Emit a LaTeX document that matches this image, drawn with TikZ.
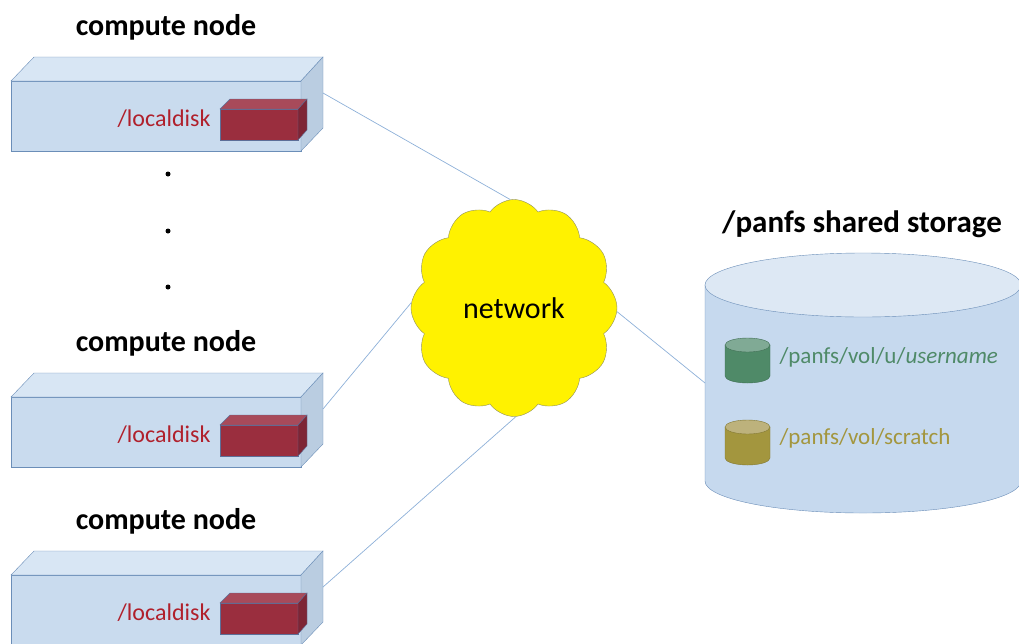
\documentclass[tikz,border=0pt]{standalone}
\usepackage{fontspec}
\setmainfont{Carlito}
\usepackage{xcolor}
\usepackage{tikz}
\usetikzlibrary{shapes, shapes.symbols, positioning, calc}

\definecolor{boxedge}{HTML}{6B8EB8}
\definecolor{boxfront}{HTML}{C9DBEE}
\definecolor{boxtop}{HTML}{D8E6F4}
\definecolor{boxside}{HTML}{BACDE1}
\definecolor{diskfront}{HTML}{9A2E3E}
\definecolor{disktop}{HTML}{A84A5A}
\definecolor{diskside}{HTML}{7E2535}
\definecolor{diskedge}{HTML}{5D6F98}
\definecolor{diskred}{HTML}{B0202C}
\definecolor{linkblue}{HTML}{8DB0D8}
\definecolor{cloudedge}{HTML}{8F8F5E}
\definecolor{storebody}{HTML}{C6D9EE}
\definecolor{storetop}{HTML}{DDE8F4}
\definecolor{volgreen}{HTML}{4F8A68}
\definecolor{volgreentop}{HTML}{80AA95}
\definecolor{vololive}{HTML}{A3963E}
\definecolor{vololivetop}{HTML}{BDB27C}

\begin{document}
\begin{tikzpicture}[x=1pt, y=-1pt,
    title/.style={font=\fontsize{30}{36}\selectfont\bfseries},
    disklabel/.style={anchor=east, text=diskred, font=\fontsize{24}{28}\selectfont},
    link/.style={draw=linkblue, line width=0.7pt}]
  \useasboundingbox (0,0) rectangle (1019,643);

  % compute node, top
  \begin{scope}
    \node[title] (t1) at (166,27) {compute node};
    \filldraw[fill=boxfront, draw=boxedge] (11,81) rectangle (301,151);
    \filldraw[fill=boxtop, draw=boxedge] (11,81) -- (34,57) -- (323,57) -- (301,81) -- cycle;
    \filldraw[fill=boxside, draw=boxedge] (301,81) -- (323,57) -- (323,128) -- (301,151) -- cycle;
    \filldraw[fill=diskfront, draw=diskedge] (220,109) rectangle (298,140);
    \filldraw[fill=disktop, draw=diskedge] (220,109) -- (230,99) -- (307,99) -- (298,109) -- cycle;
    \filldraw[fill=diskside, draw=diskedge] (298,109) -- (307,99) -- (307,130) -- (298,140) -- cycle;
    \node[disklabel] (ld1) at (214,119) {/localdisk};
    \coordinate (c1) at (323,93);
  \end{scope}

  % more nodes in between
  \fill (168,174) circle (2.5);
  \fill (168,231) circle (2.5);
  \fill (168,287) circle (2.5);

  % compute node, middle
  \begin{scope}[yshift=-316pt]
    \node[title] (t2) at (166,27) {compute node};
    \filldraw[fill=boxfront, draw=boxedge] (11,81) rectangle (301,151);
    \filldraw[fill=boxtop, draw=boxedge] (11,81) -- (34,57) -- (323,57) -- (301,81) -- cycle;
    \filldraw[fill=boxside, draw=boxedge] (301,81) -- (323,57) -- (323,128) -- (301,151) -- cycle;
    \filldraw[fill=diskfront, draw=diskedge] (220,109) rectangle (298,140);
    \filldraw[fill=disktop, draw=diskedge] (220,109) -- (230,99) -- (307,99) -- (298,109) -- cycle;
    \filldraw[fill=diskside, draw=diskedge] (298,109) -- (307,99) -- (307,130) -- (298,140) -- cycle;
    \node[disklabel] (ld2) at (214,119) {/localdisk};
    \coordinate (c2) at (323,93);
  \end{scope}

  % compute node, bottom
  \begin{scope}[yshift=-494pt]
    \node[title] (t3) at (166,27) {compute node};
    \filldraw[fill=boxfront, draw=boxedge] (11,81) rectangle (301,151);
    \filldraw[fill=boxtop, draw=boxedge] (11,81) -- (34,57) -- (323,57) -- (301,81) -- cycle;
    \filldraw[fill=boxside, draw=boxedge] (301,81) -- (323,57) -- (323,128) -- (301,151) -- cycle;
    \filldraw[fill=diskfront, draw=diskedge] (220,109) rectangle (298,140);
    \filldraw[fill=disktop, draw=diskedge] (220,109) -- (230,99) -- (307,99) -- (298,109) -- cycle;
    \filldraw[fill=diskside, draw=diskedge] (298,109) -- (307,99) -- (307,130) -- (298,140) -- cycle;
    \node[disklabel] (ld3) at (214,119) {/localdisk};
    \coordinate (c3) at (323,93);
  \end{scope}

  % network cloud
  \node[cloud, cloud puffs=12, cloud puff arc=110, cloud ignores aspect,
        minimum width=206pt, minimum height=217pt, inner sep=0pt,
        draw=cloudedge, fill=yellow, font=\fontsize{30}{36}\selectfont]
        (net) at (514,308) {network};

  % shared storage
  \node[title, font=\fontsize{31}{36}\selectfont\bfseries] (st) at (862,224) {/panfs shared storage};
  \filldraw[fill=storebody, draw=boxedge] (705,285) -- (705,481)
    arc[start angle=180, end angle=0, x radius=158, y radius=32] -- (1021,285) -- cycle;
  \filldraw[fill=storetop, draw=boxedge] (863,285) ellipse[x radius=158, y radius=32];
  \coordinate (s) at (705,383);

  % volumes
  \filldraw[fill=volgreen, draw=volgreen!80!black] (725,345) -- (725,376)
    arc[start angle=180, end angle=0, x radius=22.5, y radius=7] -- (770,345) -- cycle;
  \filldraw[fill=volgreentop, draw=volgreen!80!black] (747.5,345) ellipse[x radius=22.5, y radius=7];
  \node[anchor=west, text=volgreen, font=\fontsize{23}{28}\selectfont] (home) at (776,357) {/panfs/vol/u/\textit{username}};

  \filldraw[fill=vololive, draw=vololive!80!black] (725,427) -- (725,458)
    arc[start angle=180, end angle=0, x radius=22.5, y radius=7] -- (770,427) -- cycle;
  \filldraw[fill=vololivetop, draw=vololive!80!black] (747.5,427) ellipse[x radius=22.5, y radius=7];
  \node[anchor=west, text=vololive, font=\fontsize{23}{28}\selectfont] (scr) at (776,438) {/panfs/vol/scratch};

  % links
  \draw[link] (c1) -- (net.92);
  \draw[link] (c2) -- (net.177);
  \draw[link] (c3) -- (net.271);
  \draw[link] (net.358) -- (s);
\end{tikzpicture}
\end{document}
